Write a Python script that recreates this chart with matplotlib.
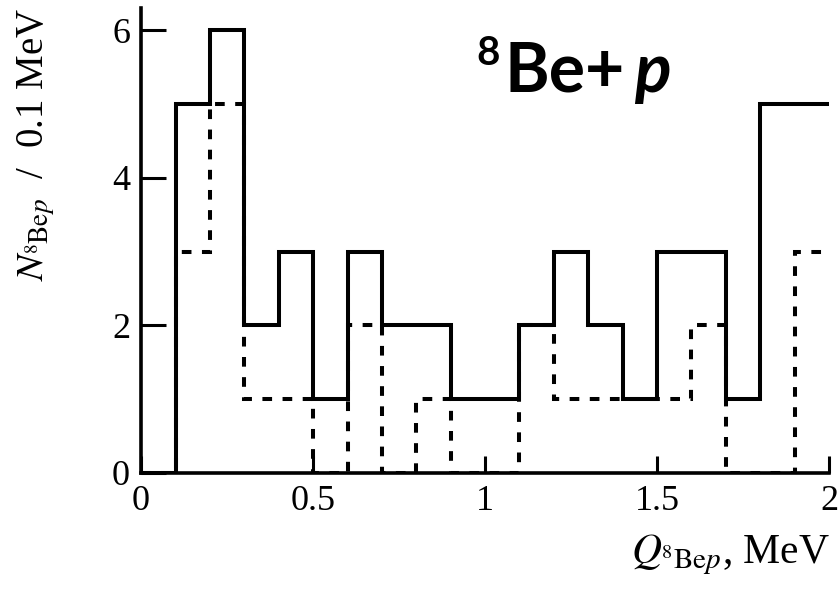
import numpy as np
import matplotlib
matplotlib.use("Agg")
import matplotlib.pyplot as plt

plt.rcParams["font.family"] = "Liberation Serif"
plt.rcParams["mathtext.fontset"] = "stix"

# counts per 0.1 MeV bin, 0..2 MeV
solid_counts = [0, 5, 6, 2, 3, 1, 3, 2, 2, 1, 1, 2, 3, 2, 1, 3, 3, 1, 5, 5]
dashed_counts = [0, 3, 5, 1, 1, 0, 2, 0, 1, 0, 0, 2, 1, 1, 1, 1, 2, 0, 0, 3]
bin_width = 0.1
x_ticks = [0, 0.5, 1, 1.5, 2]
x_tick_labels = ["0", "0.5", "1", "1.5", "2"]
y_ticks = [0, 2, 4, 6]

edges = np.arange(len(solid_counts) + 1) * bin_width

fig = plt.figure(figsize=(8.4, 5.96), dpi=100)
ax = fig.add_axes([0.168, 0.2064, 0.819, 0.78])

lw = 2.9
ax.stairs(solid_counts, edges, baseline=None, color="k", lw=lw, zorder=2)
ax.stairs(dashed_counts, edges, baseline=None, color="k", lw=lw,
          linestyle=(0, (2.4, 2.6)), zorder=2)

ax.set_xlim(0, 2)
ax.set_ylim(0, 6.3)
ax.spines["top"].set_visible(False)
ax.spines["right"].set_visible(False)
for s in ("left", "bottom"):
    ax.spines[s].set_linewidth(2.6)
    ax.spines[s].set_zorder(3)

ax.set_xticks(x_ticks)
ax.set_xticklabels(x_tick_labels)
ax.set_yticks(y_ticks)
ax.tick_params(axis="x", direction="in", length=12, width=2.2, labelsize=26, pad=9)
ax.tick_params(axis="y", direction="in", length=18, width=2.2, labelsize=26, pad=8)

fig.text(0.043, 0.757, r"$N_{{}^{8}\mathrm{Be}p}$  /  0.1 MeV", rotation=90,
         ha="center", va="center", fontsize=28)
fig.text(0.988, 0.055, r"$Q_{{}^{8}\mathrm{Be}p}$, MeV", ha="right",
         va="baseline", fontsize=30)

# reaction label
fig.text(476 / 840, 1 - 65 / 596, "8", fontsize=29, fontweight="bold",
         family="Lato", va="baseline")
fig.text(505 / 840, 1 - 92 / 596, "Be+", fontsize=49, fontweight="bold",
         family="Lato", va="baseline")
fig.text(634 / 840, 1 - 92 / 596, "p", fontsize=49, fontweight="bold",
         style="italic", family="Lato", va="baseline")

fig.savefig("out.png", dpi=100)
